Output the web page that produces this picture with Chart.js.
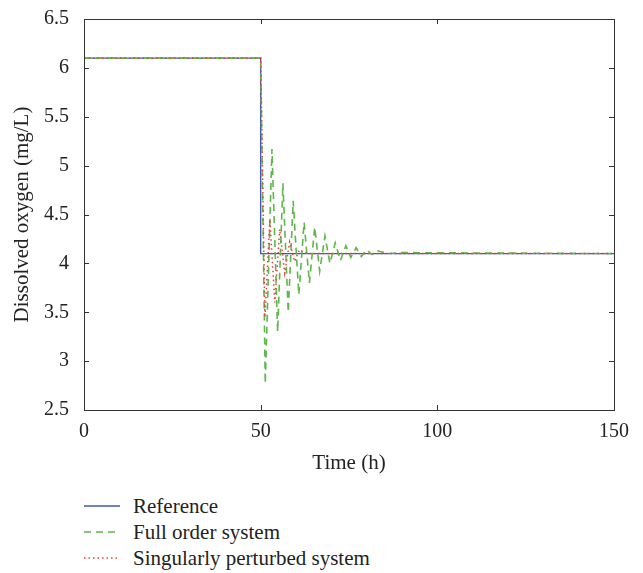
<!DOCTYPE html>
<html>
<head>
<meta charset="utf-8">
<script src="https://cdn.jsdelivr.net/npm/chart.js@4.4.0/dist/chart.umd.min.js"></script>
<style>
  body { margin: 0; background: #fff; font-family: "Liberation Serif", "DejaVu Serif", serif; }
  #wrap { position: relative; width: 643px; height: 480px; }
  #legend { position: absolute; left: 84px; top: 493px; font-size: 21px; color: #222; }
  .item { display: flex; align-items: center; height: 26px; }
  .item svg { margin-right: 13px; }
</style>
</head>
<body>
<div id="wrap"><canvas id="chart" width="643" height="480"></canvas></div>
<div id="legend"></div>
<script>
// Series data
const refTime = [0, 50, 50, 150];
const refValues = [6.1, 6.1, 4.1, 4.1];

const fullTime = [0, 50, 51.3, 53.2, 54.8, 56.3, 57.8, 59.2, 60.8, 62.3, 63.8, 65.3, 66.7, 68.2, 69.6, 71.1, 72.6, 74.1, 75.5, 77, 78.5, 80, 81.5, 83, 86, 90, 150];
const fullValues = [6.1, 6.1, 2.77, 5.17, 3.3, 4.82, 3.5, 4.64, 3.68, 4.42, 3.8, 4.37, 3.92, 4.28, 4.0, 4.21, 4.03, 4.18, 4.06, 4.16, 4.07, 4.14, 4.09, 4.13, 4.1, 4.11, 4.1];

const pertTime = [0, 50, 51.2, 52.6, 54, 55.4, 56.8, 58.2, 59.6, 61, 63, 150];
const pertValues = [6.1, 6.1, 3.45, 4.45, 3.6, 4.35, 3.9, 4.22, 4.02, 4.14, 4.1, 4.1];

const xTicks = [0, 50, 100, 150];
const yTicks = [2.5, 3, 3.5, 4, 4.5, 5, 5.5, 6, 6.5];

const seriesNames = ['Reference', 'Full order system', 'Singularly perturbed system'];
const seriesColors = ['#4458b0', '#5cb848', '#e8403c'];
const seriesDash = [[], [7, 5], [1.5, 3]];
const seriesWidth = [1.4, 1.6, 1.5];

const toPoints = (xs, ys) => xs.map((x, i) => ({ x: x, y: ys[i] }));

// Box with inward ticks on all four sides
const boxTicks = {
  id: 'boxTicks',
  afterDraw(chart) {
    const { ctx, chartArea: a, scales: { x, y } } = chart;
    ctx.save();
    ctx.strokeStyle = '#333';
    ctx.lineWidth = 1;
    ctx.strokeRect(a.left + 0.5, a.top + 0.5, a.right - a.left, a.bottom - a.top);
    ctx.beginPath();
    xTicks.forEach(v => {
      const px = Math.round(x.getPixelForValue(v)) + 0.5;
      ctx.moveTo(px, a.bottom); ctx.lineTo(px, a.bottom - 5);
      ctx.moveTo(px, a.top); ctx.lineTo(px, a.top + 5);
    });
    yTicks.forEach(v => {
      const py = Math.round(y.getPixelForValue(v)) + 0.5;
      ctx.moveTo(a.left, py); ctx.lineTo(a.left + 5, py);
      ctx.moveTo(a.right, py); ctx.lineTo(a.right - 5, py);
    });
    ctx.stroke();
    ctx.restore();
  }
};

const tickFont = { family: '"Liberation Serif", serif', size: 20 };
const titleFont = { family: '"Liberation Serif", serif', size: 21 };

new Chart(document.getElementById('chart'), {
  type: 'line',
  data: {
    datasets: seriesNames.map((name, i) => ({
      label: name,
      data: [toPoints(refTime, refValues), toPoints(fullTime, fullValues), toPoints(pertTime, pertValues)][i],
      borderColor: seriesColors[i],
      borderWidth: seriesWidth[i],
      borderDash: seriesDash[i],
      order: 3 - i,
      pointRadius: 0,
      tension: 0,
      fill: false
    }))
  },
  options: {
    responsive: false,
    animation: false,
    layout: { padding: { left: 10, right: 29, top: 15, bottom: 0 } },
    plugins: { legend: { display: false }, tooltip: { enabled: false } },
    scales: {
      x: {
        type: 'linear',
        min: 0, max: 150,
        afterBuildTicks: s => { s.ticks = xTicks.map(v => ({ value: v })); },
        afterFit: s => { s.height = 70; },
        grid: { display: false },
        border: { display: false },
        ticks: { color: '#222', font: tickFont, padding: 2, maxRotation: 0, callback: v => String(v) },
        title: { display: true, text: 'Time (h)', color: '#222', font: titleFont, padding: { top: 2 } }
      },
      y: {
        type: 'linear',
        min: 2.5, max: 6.5,
        afterBuildTicks: s => { s.ticks = yTicks.map(v => ({ value: v })); },
        afterFit: s => { s.width = 74; },
        grid: { display: false },
        border: { display: false },
        ticks: { color: '#222', font: tickFont, padding: 7, callback: v => String(v) },
        title: { display: true, text: 'Dissolved oxygen (mg/L)', color: '#222', font: titleFont, padding: { top: 0, bottom: 0 } }
      }
    }
  },
  plugins: [boxTicks]
});

// HTML legend stacked below the plot
const legend = document.getElementById('legend');
seriesNames.forEach((name, i) => {
  const row = document.createElement('div');
  row.className = 'item';
  row.innerHTML =
    '<svg width="36" height="4"><line x1="0" y1="2" x2="36" y2="2" stroke="' + seriesColors[i] +
    '" stroke-width="' + seriesWidth[i] + '" stroke-dasharray="' + (seriesDash[i].join(' ') || 'none') + '"/></svg>';
  const t = document.createElement('span');
  t.textContent = name;
  row.appendChild(t);
  legend.appendChild(row);
});
</script>
</body>
</html>
